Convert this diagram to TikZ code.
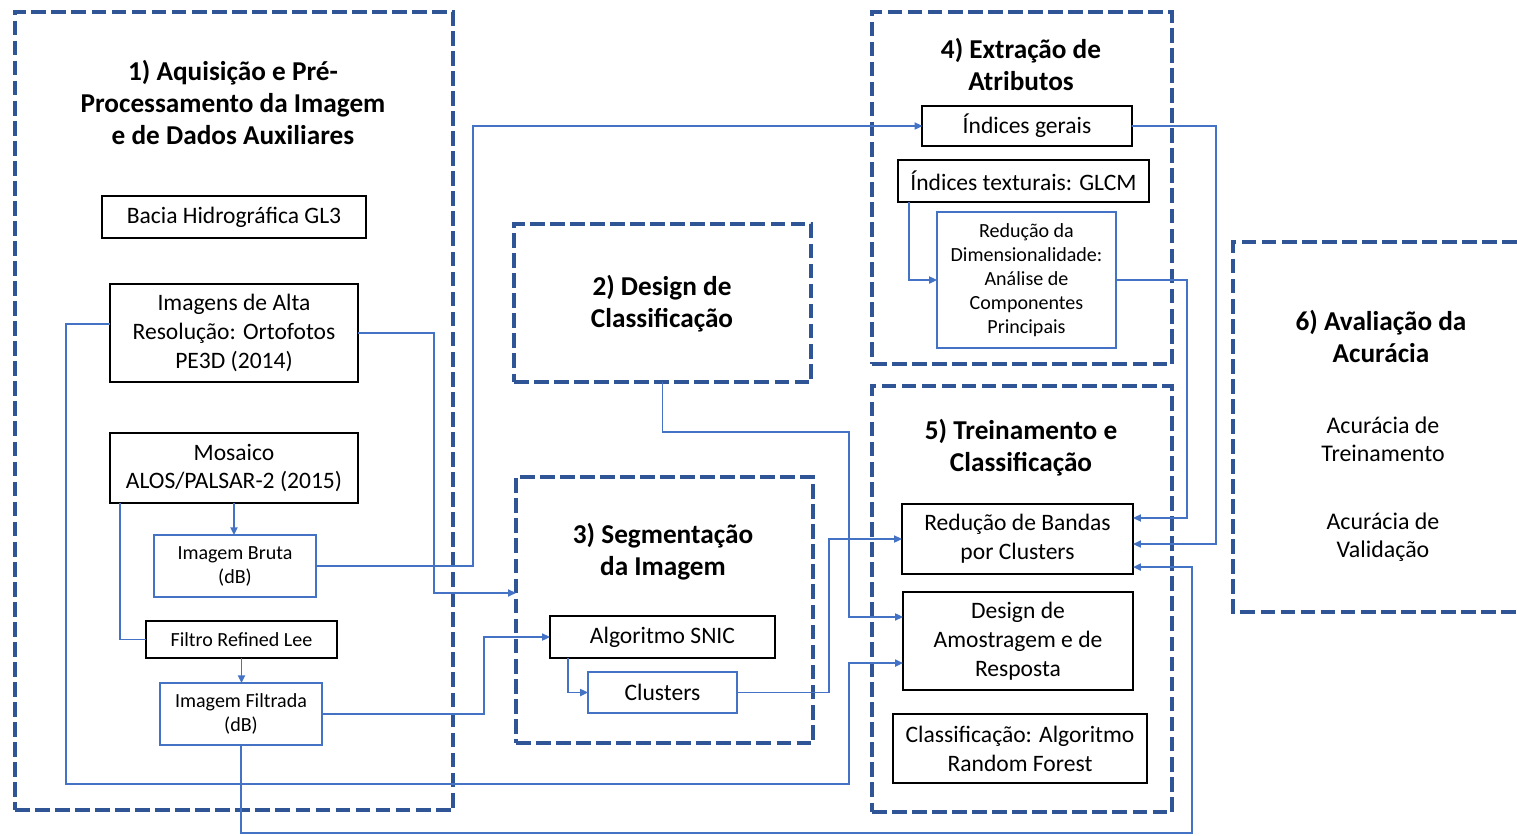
\documentclass[tikz,border=0pt]{standalone}
\usepackage{fontspec}
\setmainfont{Carlito}
\usetikzlibrary{arrows.meta}
\definecolor{azulesc}{HTML}{2F5597}
\definecolor{azul}{HTML}{4472C4}
\begin{document}
\begin{tikzpicture}[x=0.01cm, y=-0.01cm,
    grupo/.style={draw=azulesc, line width=1.25pt, dash pattern=on 4.2pt off 1.5pt, inner sep=0pt, outer sep=0pt},
    titulo/.style={align=center, font=\fontsize{7.75}{9.1}\selectfont\bfseries},
    texto/.style={align=center, font=\fontsize{6.8}{8}\selectfont},
    caixa/.style={draw=black, line width=0.55pt, align=center, inner sep=0pt, outer sep=0pt, font=\fontsize{6.7}{8.2}\selectfont},
    caixaazul/.style={caixa, draw=azul, line width=0.45pt, font=\fontsize{5.7}{6.8}\selectfont},
    linha/.style={draw=azul, line width=0.45pt},
    liga/.style={linha, -{Triangle[length=2.2pt, width=2pt]}}]
  \useasboundingbox (0,0) rectangle (1517,836);

  % grupos
  \node (g1) [grupo, minimum width=4.38cm, minimum height=7.98cm] at (234,411) {};
  \node (g2) [grupo, minimum width=2.97cm, minimum height=1.58cm] at (662.5,303) {};
  \node (g3) [grupo, minimum width=2.97cm, minimum height=2.66cm] at (664.5,610) {};
  \node (g4) [grupo, minimum width=3cm, minimum height=3.52cm] at (1022,188) {};
  \node (g5) [grupo, minimum width=3cm, minimum height=4.26cm] at (1022,599) {};
  \draw[grupo] (1517,242) -| (1233,612) -- (1517,612);

  \node (t1) [titulo] at (233,102) {1) Aquisição e Pré-\\Processamento da Imagem\\e de Dados Auxiliares};
  \node (t2) [titulo] at (662,304) {2) Design de\\Classificação};
  \node (t3) [titulo] at (663,552) {3) Segmentação\\da Imagem};
  \node (t4) [titulo] at (1021,64) {4) Extração de\\Atributos};
  \node (t5) [titulo] at (1021,448) {5) Treinamento e\\Classificação};
  \node (t6) [titulo] at (1381,336) {6) Avaliação da\\Acurácia};
  \node (treino) [texto] at (1383,439) {Acurácia de\\Treinamento};
  \node (valid) [texto] at (1383,537) {Acurácia de\\Validação};

  % caixas
  \node (bacia) [caixa, minimum width=2.64cm, minimum height=0.42cm] at (234,217) {Bacia Hidrográfica GL3};
  \node (orto) [caixa, minimum width=2.48cm, minimum height=0.98cm] at (234,333) {Imagens de Alta\\Resolução: Ortofotos\\PE3D (2014)};
  \node (mosaico) [caixa, minimum width=2.48cm, minimum height=0.7cm] at (234,468) {Mosaico\\ALOS/PALSAR-2 (2015)};
  \node (bruta) [caixaazul, minimum width=1.62cm, minimum height=0.62cm] at (235,566) {Imagem Bruta\\(dB)};
  \node (filtro) [caixa, font=\fontsize{5.7}{6.8}\selectfont, minimum width=1.91cm, minimum height=0.37cm] at (241.5,639.5) {Filtro Refined Lee};
  \node (filtrada) [caixaazul, minimum width=1.62cm, minimum height=0.62cm] at (241,714) {Imagem Filtrada\\(dB)};
  \node (snic) [caixa, minimum width=2.25cm, minimum height=0.42cm] at (662.5,637) {Algoritmo SNIC};
  \node (clusters) [caixaazul, font=\fontsize{6.7}{8.2}\selectfont, minimum width=1.49cm, minimum height=0.41cm] at (662.5,692.5) {Clusters};
  \node (gerais) [caixa, minimum width=2.09cm, minimum height=0.4cm] at (1027,126) {Índices gerais};
  \node (glcm) [caixa, minimum width=2.51cm, minimum height=0.42cm] at (1023.5,181) {Índices texturais: GLCM};
  \node (pca) [caixaazul, minimum width=1.79cm, minimum height=1.36cm] at (1026.5,280) {Redução da\\Dimensionalidade:\\Análise de\\Componentes\\Principais};
  \node (bandas) [caixa, minimum width=2.31cm, minimum height=0.7cm] at (1017.5,539) {Redução de Bandas\\por Clusters};
  \node (amostra) [caixa, minimum width=2.3cm, minimum height=0.98cm] at (1018,641) {Design de\\Amostragem e de\\Resposta};
  \node (rf) [caixa, minimum width=2.54cm, minimum height=0.69cm] at (1020,748.5) {Classificação: Algoritmo\\Random Forest};

  % ligacoes
  \draw[liga] ([yshift=0.09cm]orto.west) -| (66,784) -| (849,663) -- ([yshift=-0.22cm]amostra.west);
  \draw[liga] (orto.east) -| (434,593) -- ([yshift=0.17cm]g3.west);
  \draw[liga] (mosaico.south) -- (mosaico.south |- bruta.north);
  \draw[linha] ([xshift=0.1cm]mosaico.south west) |- (filtro.west);
  \draw[liga] (filtro.south) -- (filtro.south |- filtrada.north);
  \draw[liga] (bruta.east) -| (473,126) -- (gerais.west);
  \draw[liga] (filtrada.east) -| (484,637) -- (snic.west);
  \draw[liga] ([xshift=0.18cm]snic.south west) |- (clusters.west);
  \draw[liga] (clusters.east) -| (829,539) -- (bandas.west);
  \draw[liga] (g2.south) |- (849,432) |- ([yshift=0.24cm]amostra.west);
  \draw[liga] ([xshift=0.11cm]glcm.south west) |- (pca.west);
  \draw[liga] (pca.east) -| (1187,518) -- ([yshift=0.21cm]bandas.east);
  \draw[liga] (gerais.east) -| (1216,544) -- ([yshift=-0.05cm]bandas.east);
  \draw[liga] (filtrada.south) |- (1192,833) |- ([yshift=-0.28cm]bandas.east);
\end{tikzpicture}
\end{document}
